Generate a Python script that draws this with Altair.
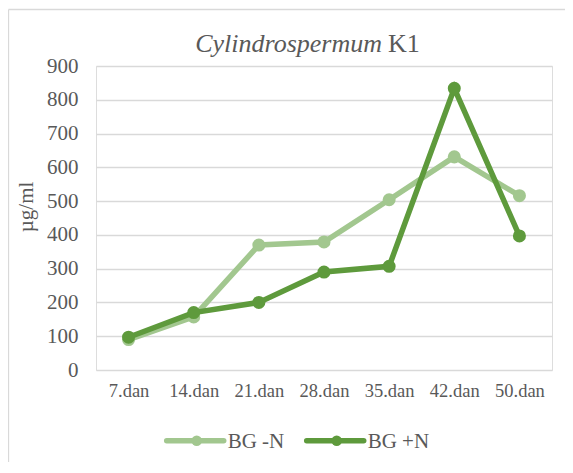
import altair as alt
import pandas as pd

categories = ["7.dan", "14.dan", "21.dan", "28.dan", "35.dan", "42.dan", "50.dan"]
bg_minus_n = [90, 157, 370, 379, 504, 631, 516]
bg_plus_n = [97, 170, 200, 290, 307, 834, 397]
series_names = ["BG -N", "BG +N"]
y_ticks = [0, 100, 200, 300, 400, 500, 600, 700, 800, 900]

LIGHT = "#A2C78F"
DARK = "#5E9A3C"
TXT = "#595959"
FONT = "'Times New Roman', 'Liberation Serif', serif"

rows = []
for c, v in zip(categories, bg_minus_n):
    rows.append({"dan": c, "val": v, "serija": series_names[0]})
for c, v in zip(categories, bg_plus_n):
    rows.append({"dan": c, "val": v, "serija": series_names[1]})
df = pd.DataFrame(rows)

W, H = 456, 304

x_enc = alt.X("dan:N", sort=categories,
              scale=alt.Scale(type="point", padding=0.5),
              axis=alt.Axis(title=None, domain=False, ticks=False, grid=False,
                            labelAngle=0, labelFont=FONT, labelFontSize=18.5,
                            labelColor=TXT, labelPadding=11))
y_enc = alt.Y("val:Q", scale=alt.Scale(domain=[0, 900], nice=False),
              axis=alt.Axis(title=None, values=y_ticks, domain=False, ticks=False,
                            grid=True, gridColor="#D9D9D9", gridWidth=1.3,
                            labelFont=FONT, labelFontSize=21, labelColor=TXT,
                            labelPadding=18))

base = alt.Chart(df)

def series_layer(name, color):
    b = base.transform_filter(alt.datum.serija == name)
    line = b.mark_line(color=color, strokeWidth=5.5).encode(x=x_enc, y=y_enc)
    pts = b.mark_point(color=color, filled=True, opacity=1, size=170).encode(x=x_enc, y=y_enc)
    return line + pts

# outer border: left and top edges only
border_df = pd.DataFrame({"a": [0]})
border_left = alt.Chart(border_df).mark_rule(color="#D9D9D9", strokeWidth=1.3, clip=False).encode(
    x=alt.value(-87.5), y=alt.value(-56.5), y2=alt.value(500))
border_top = alt.Chart(border_df).mark_rule(color="#D9D9D9", strokeWidth=1.3, clip=False).encode(
    x=alt.value(-87.5), x2=alt.value(700), y=alt.value(-56.5))

title_df = pd.DataFrame({"t1": ["Cylindrospermum"], "t2": ["K1"]})
title_it = alt.Chart(title_df).mark_text(
    font=FONT, fontSize=26, fontStyle="italic", color=TXT, align="right", baseline="alphabetic"
).encode(text="t1:N", x=alt.value(286), y=alt.value(-14))
title_k = alt.Chart(title_df).mark_text(
    font=FONT, fontSize=26, color=TXT, align="left", baseline="alphabetic"
).encode(text="t2:N", x=alt.value(292), y=alt.value(-14))

ytitle = alt.Chart(pd.DataFrame({"t": ["µg/ml"]})).mark_text(
    font=FONT, fontSize=21, color=TXT, angle=270, align="center", baseline="middle"
).encode(text="t:N", x=alt.value(-69), y=alt.value(141))

# legend
leg_df = pd.DataFrame({"name": series_names})
def legend_item(name, color, x0):
    d = alt.Chart(leg_df).transform_filter(alt.datum.name == name)
    ln = d.mark_rule(color=color, strokeWidth=5.5, strokeCap="round").encode(
        x=alt.value(x0), x2=alt.value(x0 + 57), y=alt.value(374.7))
    pt = d.mark_point(color=color, filled=True, opacity=1, size=110).encode(
        x=alt.value(x0 + 30), y=alt.value(374.7))
    tx = d.mark_text(font=FONT, fontSize=21, color=TXT, align="left", baseline="middle").encode(
        text="name:N", x=alt.value(x0 + 61), y=alt.value(375.5))
    return ln + pt + tx

chart = alt.layer(
    border_left, border_top,
    series_layer(series_names[0], LIGHT),
    series_layer(series_names[1], DARK),
    title_it, title_k, ytitle,
    legend_item(series_names[0], LIGHT, 70.7),
    legend_item(series_names[1], DARK, 210.7),
).properties(
    width=W, height=H,
    autosize=alt.AutoSizeParams(type="none"),
    padding={"left": 88, "top": 58, "right": 13, "bottom": 92},
).configure_view(stroke=None).configure(background="white")

chart.save("out.html", embed_options={"renderer": "svg", "actions": False})
